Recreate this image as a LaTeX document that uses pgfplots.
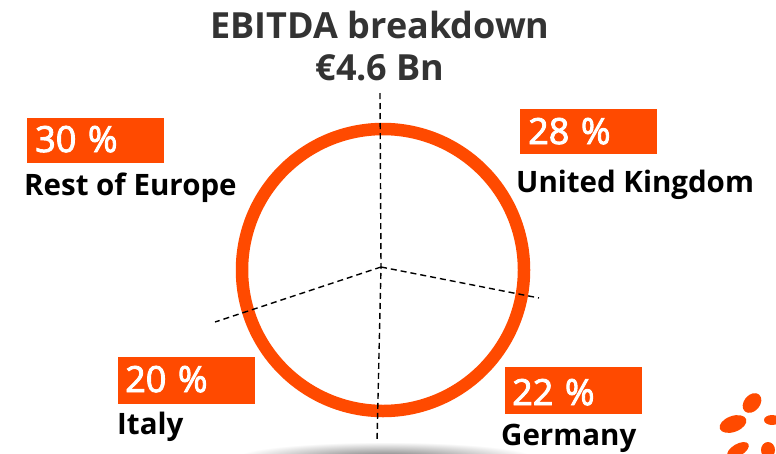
\documentclass[border=0pt]{standalone}
\usepackage{pgfplots}
\pgfplotsset{compat=1.18}
\usepackage{fontspec}
\setmainfont{Open Sans}
\newfontfamily\pctfont[FakeBold=2.5]{Open Sans}
\definecolor{edf}{RGB}{255,74,0}
\definecolor{ttl}{RGB}{51,51,51}
\begin{document}
\begin{tikzpicture}
\useasboundingbox (0,0) rectangle (776pt,453pt);
\clip (0,0) rectangle (776pt,453pt);
\begin{axis}[scale only axis, width=776pt, height=453pt,
  xmin=0, xmax=776, ymin=0, ymax=453, y dir=reverse,
  hide axis, clip=false]
% shadow under the ring
\shade[inner color=black!55, outer color=white] (axis cs:385,458) ellipse [x radius=150pt, y radius=16pt];
% ring
\draw[edf, line width=12.5pt] (axis cs:383,270) circle [radius=141pt];
% slice boundaries: UK 28, Germany 22, Italy 20, Rest of Europe 30 (clockwise from top)
\addplot[black, line width=1.4pt, dash pattern=on 6pt off 4pt] coordinates {(380,93) (381,267) (377,442)};
\addplot[black, line width=1.4pt, dash pattern=on 6pt off 4pt] coordinates {(381,267) (539,298)};
\addplot[black, line width=1.4pt, dash pattern=on 6pt off 4pt] coordinates {(381,267) (215,322)};
% title
\node[ttl, font=\fontsize{36}{40}\selectfont\bfseries, anchor=base] at (axis cs:380,38) {EBITDA breakdown};
\node[ttl, font=\fontsize{36}{40}\selectfont\bfseries, anchor=base] at (axis cs:380,80) {€4.6 Bn};
% boxes
\fill[edf] (axis cs:27,118) rectangle (axis cs:164,163);
\fill[edf] (axis cs:520,109) rectangle (axis cs:657,154);
\fill[edf] (axis cs:118,357) rectangle (axis cs:255,404);
\fill[edf] (axis cs:505,367) rectangle (axis cs:642,414);
\node[white, font=\fontsize{36}{40}\pctfont, anchor=base west, inner sep=0pt] at (axis cs:35,152) {30\hspace{0.32em}\%};
\node[white, font=\fontsize{36}{40}\pctfont, anchor=base west, inner sep=0pt] at (axis cs:528,144) {28\hspace{0.32em}\%};
\node[white, font=\fontsize{36}{40}\pctfont, anchor=base west, inner sep=0pt] at (axis cs:125,392) {20\hspace{0.32em}\%};
\node[white, font=\fontsize{36}{40}\pctfont, anchor=base west, inner sep=0pt] at (axis cs:512,405) {22\hspace{0.32em}\%};
% labels
\node[black, font=\fontsize{29.5}{32}\selectfont\bfseries, anchor=base west, inner sep=0pt] at (axis cs:24,195) {Rest of Europe};
\node[black, font=\fontsize{29.5}{32}\selectfont\bfseries, anchor=base west, inner sep=0pt] at (axis cs:516,192) {United Kingdom};
\node[black, font=\fontsize{29.5}{32}\selectfont\bfseries, anchor=base west, inner sep=0pt] at (axis cs:117,434) {Italy};
\node[black, font=\fontsize{29.5}{32}\selectfont\bfseries, anchor=base west, inner sep=0pt] at (axis cs:501,445) {Germany};
% logo fragment
\fill[edf, rotate around={-40:(axis cs:752,403)}] (axis cs:752,403) ellipse [x radius=8pt, y radius=11pt];
\fill[edf, rotate around={20:(axis cs:733,424)}] (axis cs:733,424) ellipse [x radius=14pt, y radius=8pt];
\fill[edf] (axis cs:772,420) ellipse [x radius=8pt, y radius=5pt];
\fill[edf, rotate around={30:(axis cs:738,450)}] (axis cs:738,450) ellipse [x radius=12pt, y radius=6pt];
\fill[edf] (axis cs:768,450) ellipse [x radius=7pt, y radius=8pt];
\end{axis}
\end{tikzpicture}
\end{document}
